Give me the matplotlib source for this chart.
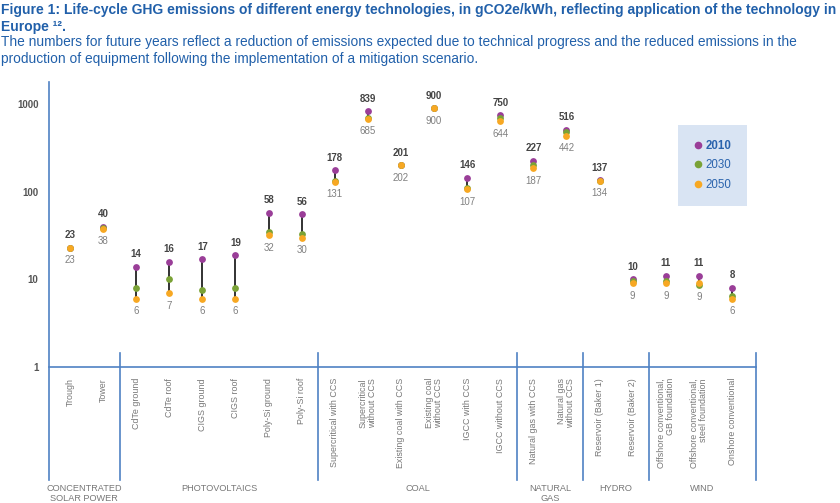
import numpy as np
import matplotlib
matplotlib.use('Agg')
import matplotlib.pyplot as plt
from matplotlib.lines import Line2D

# 数据
techs = ['Trough', 'Tower', 'CdTe ground', 'CdTe roof', 'CIGS ground', 'CIGS roof',
         'Poly-Si ground', 'Poly-Si roof', 'Supercritical with CCS', 'Supercritical\nwithout CCS',
         'Existing coal with CCS', 'Existing coal\nwithout CCS', 'IGCC with CCS', 'IGCC without CCS',
         'Natural gas with CCS', 'Natural gas\nwithout CCS', 'Reservoir (Baker 1)', 'Reservoir (Baker 2)',
         'Offshore conventional,\nGB foundation', 'Offshore conventional,\nsteel foundation',
         'Onshore conventional']
v2010 = [23, 40, 14, 16, 17, 19, 58, 56, 178, 839, 201, 900, 146, 750, 227, 516, 137, 10, 11, 11, 8]
v2030 = [23, 39, 8, 10, 7.5, 8, 35, 33, 135, 700, 202, 900, 110, 700, 205, 480, 135, 9.5, 9.5, 8.7, 6.5]
v2050 = [23, 38, 6, 7, 6, 6, 32, 30, 131, 685, 202, 900, 107, 644, 187, 442, 134, 9, 9, 9, 6]
groups = ['CONCENTRATED\nSOLAR POWER', 'PHOTOVOLTAICS', 'COAL', 'NATURAL\nGAS', 'HYDRO', 'WIND']
group_sizes = [2, 6, 6, 2, 2, 3]
years = ['2010', '2030', '2050']

c_purple = '#9a3e98'
c_green = '#7aa236'
c_orange = '#f7a823'
c_blue = '#4f81c4'
c_title = '#2160aa'

fig = plt.figure(figsize=(8.4, 5.03), dpi=100)
W, H = 840, 503
ax = fig.add_axes([49 / W, (H - 367) / H, (756 - 49) / W, (367 - 82) / H])

x = np.arange(len(techs))
ax.set_yscale('log')
ax.set_xlim(-0.634, 20.725)
ax.set_ylim(1, 1807)

# 连接线
lo = np.minimum(np.minimum(v2010, v2030), v2050)
hi = np.maximum(np.maximum(v2010, v2030), v2050)
ax.vlines(x, lo, hi, color='#222222', lw=1.3, zorder=2)

# 圆点
ax.scatter(x, v2010, s=24, color=c_purple, zorder=3, linewidths=0)
ax.scatter(x, v2030, s=24, color=c_green, zorder=4, linewidths=0)
ax.scatter(x, v2050, s=24, color=c_orange, zorder=5, linewidths=0)

# 数值标签
for i in range(len(techs)):
    ax.annotate(f'{v2010[i]:g}', (x[i], hi[i]), xytext=(0, 9), textcoords='offset points',
                ha='center', va='center', fontsize=7, fontweight='bold', color='#444444',
                family='Liberation Sans')
    ax.annotate(f'{v2050[i]:g}', (x[i], lo[i]), xytext=(0, -9), textcoords='offset points',
                ha='center', va='center', fontsize=7, color='#808080', family='Liberation Sans')

# 坐标轴
for s in ['top', 'right', 'left']:
    ax.spines[s].set_visible(False)
ax.spines['bottom'].set_color(c_blue)
ax.spines['bottom'].set_linewidth(1.2)
ax.set_yticks([1, 10, 100, 1000])
ax.set_yticklabels(['1', '10', '100', '1000'], fontsize=7, fontweight='bold',
                   color='#555555', family='Liberation Sans')
ax.yaxis.set_minor_locator(matplotlib.ticker.NullLocator())
ax.tick_params(axis='y', length=0, pad=7.5)
ax.set_xticks(x)
ax.set_xticklabels(techs, rotation=90, fontsize=6.4, color='#777777', family='Liberation Sans',
                   multialignment='right', linespacing=1.0)
ax.tick_params(axis='x', length=0, pad=8)

# 分隔线
xl, xr = ax.get_xlim()
bounds = [xl]
pos = -0.5
for n in group_sizes:
    pos += n
    bounds.append(pos)
bounds[-1] = xr
ax.axvline(xl, ymin=-0.396, ymax=1, color=c_blue, lw=1.2, clip_on=False)
for b in bounds[1:]:
    ax.axvline(b, ymin=-0.396, ymax=0.049, color=c_blue, lw=1.2, clip_on=False)

trans = ax.get_xaxis_transform()
for g, a, b in zip(groups, bounds[:-1], bounds[1:]):
    ax.text((a + b) / 2, -0.41, g, transform=trans, ha='center', va='top', fontsize=6.6,
            color='#777777', family='Liberation Sans', linespacing=1.15)

# 图例
handles = [Line2D([], [], marker='o', ls='', color=c, markersize=5.5, markeredgewidth=0)
           for c in [c_purple, c_green, c_orange]]
leg = fig.legend(handles, years, loc='upper left', bbox_to_anchor=(678 / W, 1 - 125 / H),
                 borderaxespad=0, frameon=True, facecolor='#d3e0f1', edgecolor='none',
                 framealpha=0.85, fancybox=False, handlelength=0.8,
                 handletextpad=0.3, labelspacing=0.65, borderpad=1.3,
                 prop={'family': 'Liberation Sans', 'size': 8.3})
for t in leg.get_texts():
    t.set_color('#2a63ad')
leg.get_texts()[0].set_fontweight('bold')

# 标题
tfam = 'Liberation Sans'
fig.text(0.001, 1 - 10 / H, 'Figure 1: Life-cycle GHG emissions of different energy technologies, in gCO2e/kWh, '
         'reflecting application of the technology in', fontsize=10, fontweight='bold', color=c_title,
         family=tfam, va='center', ha='left')
fig.text(0.001, 1 - 27 / H, 'Europe \u00b9\u00b2.', fontsize=10, fontweight='bold', color=c_title,
         family=tfam, va='center', ha='left')
fig.text(0.001, 1 - 42 / H, 'The numbers for future years reflect a reduction of emissions expected due to technical '
         'progress and the reduced emissions in the', fontsize=9.9, color=c_title, family=tfam,
         va='center', ha='left')
fig.text(0.001, 1 - 59 / H, 'production of equipment following the implementation of a mitigation scenario.',
         fontsize=9.9, color=c_title, family=tfam, va='center', ha='left')

fig.savefig('out.png', dpi=100)
